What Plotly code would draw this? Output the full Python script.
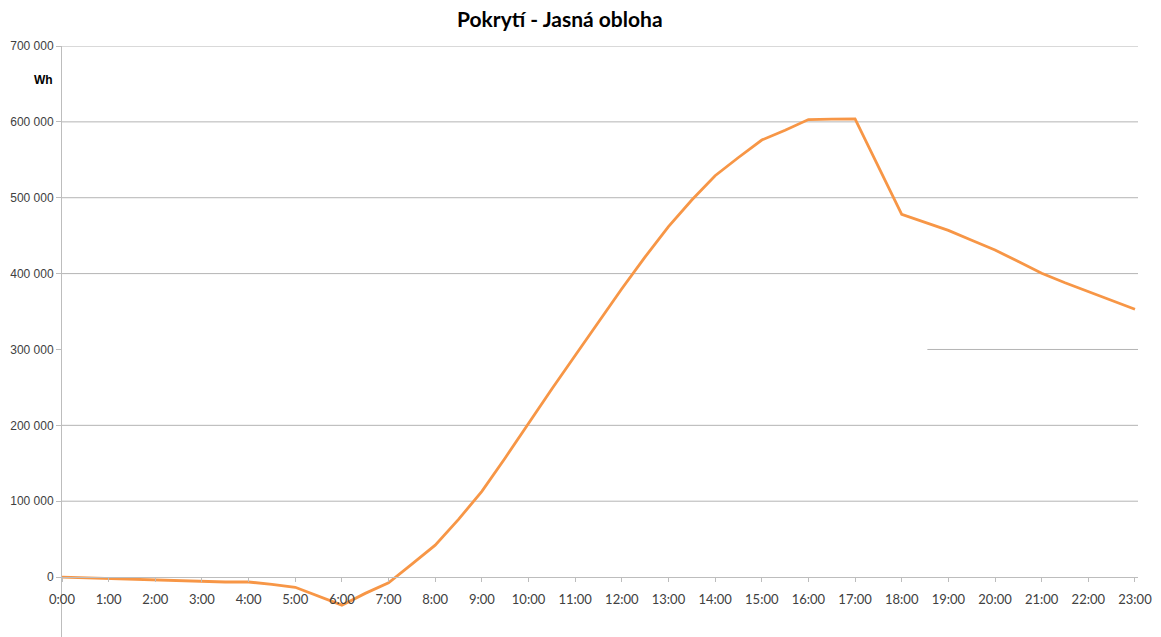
import plotly.graph_objects as go

# Time of day in hours and cumulative energy balance (Wh)
hours = [0, 0.5, 1, 1.5, 2, 2.5, 3, 3.5, 4, 4.5, 5, 5.5, 6, 6.5, 7, 7.5,
         8, 8.5, 9, 9.5, 10, 10.5, 11, 11.5, 12, 12.5, 13, 13.5, 14, 14.5,
         15, 15.5, 16, 16.5, 17, 18, 18.5, 19, 19.5, 20, 20.5, 21, 21.5,
         22, 22.5, 23]
energy_wh = [0, -1000, -2000, -3000, -4500, -5500, -6500, -6500, -6500,
             -9500, -13500, -25000, -37000, -21500, -7500, 17000,
             42000, 76000, 113000, 157000, 203000, 248000, 292000, 336000,
             380000, 422000, 462000, 497000, 529000, 553000,
             576000, 589000, 603000, 603500, 604000, 478000, 468000,
             457000, 444000, 431000, 416000, 400500, 388000,
             376000, 365000, 353000]

x_tickvals = list(range(0, 24))
x_ticktext = [f"{h}:00" for h in x_tickvals]
y_tickvals = [0, 100000, 200000, 300000, 400000, 500000, 600000, 700000]

# Horizontal grid segments: (value, start hour)
grid_segments = [(100000, 0), (200000, 0), (300000, 18.55), (400000, 0),
                 (500000, 0), (600000, 0), (700000, 0)]

Y_MIN, Y_MAX = -79000, 700000
X_MAX = 23.065

fig = go.Figure()
fig.add_trace(go.Scatter(
    x=hours, y=energy_wh, mode="lines",
    line=dict(color="#F79646", width=2.8),
    hoverinfo="skip", showlegend=False,
))

for val, x0 in grid_segments:
    fig.add_shape(type="line", xref="x", yref="y", x0=x0, x1=X_MAX,
                  y0=val, y1=val, line=dict(color="#B4B4B4", width=1),
                  layer="below")

fig.update_layout(
    width=1161, height=637,
    margin=dict(l=62, r=23, t=46, b=0),
    paper_bgcolor="white", plot_bgcolor="white",
    separators=", ",
    showlegend=False,
    annotations=[
        dict(text="<b>Pokrytí - Jasná obloha</b>", xref="paper", yref="paper",
             x=(560 - 62) / 1076, y=1, yanchor="middle", xanchor="center",
             yshift=46 - 18, showarrow=False,
             font=dict(family="Lato", size=21, color="#000000")),
        dict(text="<b>Wh</b>", xref="paper", yref="paper", x=0, y=1,
             xanchor="right", yanchor="middle", xshift=-7, yshift=-34,
             showarrow=False,
             font=dict(family="Liberation Sans", size=12, color="#000000")),
    ],
)

fig.update_xaxes(
    range=[0, X_MAX], anchor="free",
    position=(0 - Y_MIN) / (Y_MAX - Y_MIN),
    tickvals=x_tickvals, ticktext=x_ticktext,
    showgrid=False, zeroline=False,
    showline=True, linecolor="#BDBDBD", linewidth=1,
    ticks="outside", ticklen=4, tickcolor="#BDBDBD",
    ticklabelstandoff=6,
    tickfont=dict(family="Lato", size=13, color="#404040"),
)
fig.update_yaxes(
    range=[Y_MIN, Y_MAX],
    tickvals=y_tickvals, tickformat=",d",
    showgrid=False, zeroline=False,
    showline=True, linecolor="#BDBDBD", linewidth=1,
    ticks="outside", ticklen=5, tickcolor="#BDBDBD",
    tickfont=dict(family="Liberation Sans", size=12, color="#404040"),
)

fig.write_html("out.html")
